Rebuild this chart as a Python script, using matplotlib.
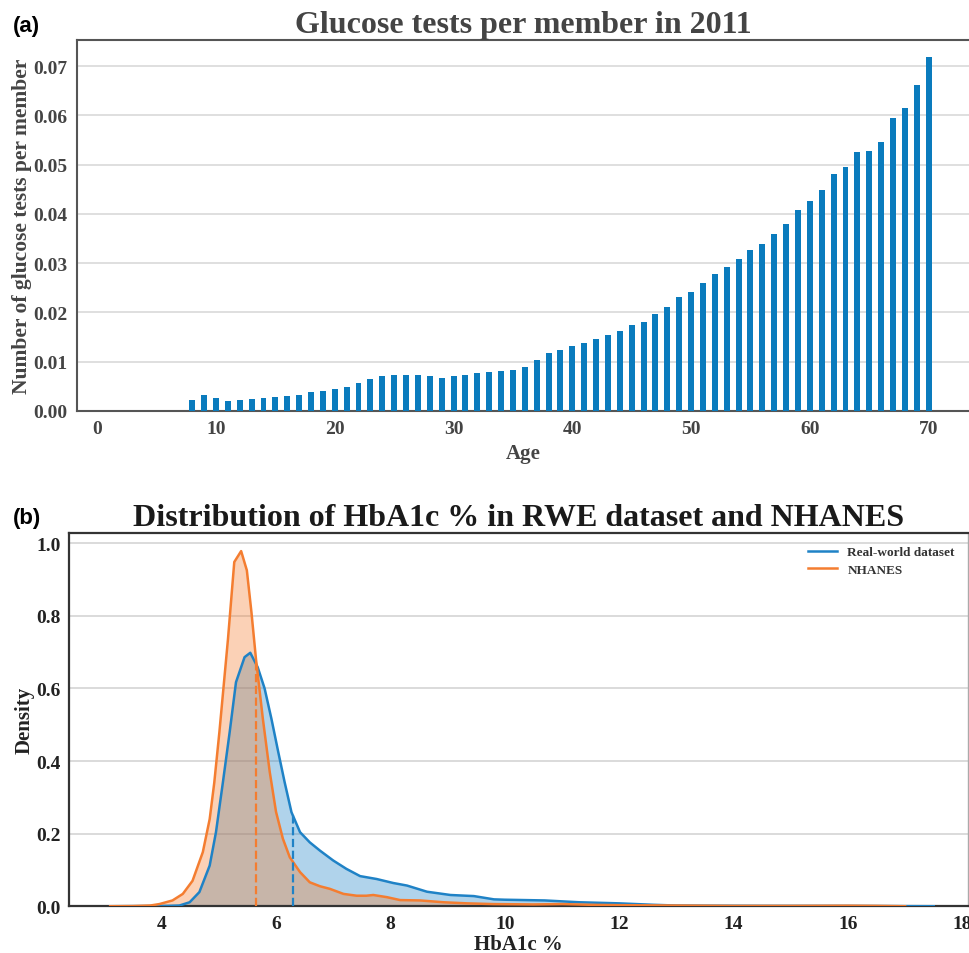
import numpy as np
import matplotlib
matplotlib.use("Agg")
import matplotlib.pyplot as plt

# ================= DATA =================
ages = list(range(0, 71))
tests_per_member = [0.0] * 8 + [
    0.00217, 0.00318, 0.00258, 0.00197, 0.00217, 0.00237, 0.00258, 0.00278,
    0.00298, 0.00318, 0.00379, 0.00400, 0.00440, 0.00481, 0.00562, 0.00644,
    0.00705, 0.00725, 0.00725, 0.00725, 0.00705, 0.00664, 0.00705, 0.00725,
    0.00766, 0.00786, 0.00806, 0.00827, 0.00888, 0.01030, 0.01172, 0.01233,
    0.01315, 0.01376, 0.01457, 0.01538, 0.01620, 0.01742, 0.01803, 0.01965,
    0.02107, 0.02311, 0.02412, 0.02595, 0.02778, 0.02921, 0.03083, 0.03266,
    0.03388, 0.03592, 0.03795, 0.04079, 0.04262, 0.04486, 0.04811, 0.04954,
    0.05259, 0.05279, 0.05462, 0.05950, 0.06153, 0.06621, 0.07190,
]

rwe_x = [3.1, 3.8, 4.1, 4.31, 4.49, 4.66, 4.84, 4.95, 5.07, 5.19, 5.30, 5.45,
         5.55, 5.68, 5.80, 5.92, 6.04, 6.15, 6.27, 6.42, 6.59, 6.77, 7.0,
         7.23, 7.47, 7.76, 8.05, 8.29, 8.64, 9.05, 9.46, 9.81, 10.0, 10.7,
         11.3, 12.0, 12.6, 13.0, 13.5, 14.5, 16.0, 17.5]
rwe_y = [0.0, 0.0005, 0.001, 0.002, 0.011, 0.039, 0.112, 0.204, 0.34, 0.48,
         0.617, 0.686, 0.698, 0.658, 0.60, 0.516, 0.424, 0.342, 0.259, 0.204,
         0.176, 0.153, 0.126, 0.103, 0.083, 0.075, 0.064, 0.057, 0.040, 0.031,
         0.028, 0.019, 0.018, 0.016, 0.011, 0.008, 0.004, 0.002, 0.0015,
         0.001, 0.0008, 0.0]

nhanes_x = [3.1, 3.5, 3.8, 3.96, 4.19, 4.37, 4.54, 4.72, 4.84, 4.92, 5.01,
            5.16, 5.27, 5.39, 5.49, 5.57, 5.65, 5.77, 5.89, 6.0, 6.12, 6.24,
            6.42, 6.59, 6.77, 6.94, 7.18, 7.41, 7.58, 7.70, 7.94, 8.17, 8.52,
            8.93, 9.34, 9.8, 10.5, 11.0, 11.5, 12.0, 13.0, 14.0, 15.0, 16.0,
            16.5, 17.0]
nhanes_y = [0.0, 0.0005, 0.002, 0.006, 0.016, 0.034, 0.07, 0.149, 0.24,
            0.34, 0.48, 0.736, 0.948, 0.978, 0.925, 0.81, 0.68, 0.516, 0.37,
            0.26, 0.186, 0.135, 0.094, 0.066, 0.055, 0.048, 0.034, 0.029,
            0.029, 0.031, 0.025, 0.017, 0.016, 0.011, 0.008, 0.006, 0.005,
            0.006, 0.004, 0.003, 0.002, 0.001, 0.001, 0.0015, 0.001, 0.0]

rwe_median = 6.29
nhanes_median = 5.65

# ================= STYLE =================
plt.rcParams.update({
    "font.family": ["Liberation Serif", "DejaVu Serif"],
    "font.weight": "bold",
})
bar_color = "#0a7bbd"
blue = "#1f82c6"
orange = "#f47d30"

fig = plt.figure(figsize=(9.69, 9.54), dpi=100)

# ================= (a) BAR CHART =================
ax1 = fig.add_axes([0.0795, 0.5684, 0.9205, 0.3886])
ax1.bar(ages, tests_per_member, width=0.5, color=bar_color, zorder=3)
ax1.set_xlim(-1.7, 73.4)
ax1.set_ylim(0, 0.0753)
ax1.set_xticks(range(0, 71, 10))
ax1.set_yticks(np.arange(0, 0.071, 0.01))
ax1.set_yticklabels([f"{v:.2f}" for v in np.arange(0, 0.071, 0.01)])
ax1.yaxis.grid(True, color="#d9d9d9", linewidth=1.2, zorder=0)
ax1.tick_params(length=0, labelsize=14, labelcolor="#444444", pad=7)
for lab in ax1.get_xticklabels() + ax1.get_yticklabels():
    lab.set_fontweight("bold")
for side in ["left", "bottom", "top"]:
    ax1.spines[side].set_color("#555555")
    ax1.spines[side].set_linewidth(1.5)
ax1.spines["right"].set_visible(False)
ax1.set_title("Glucose tests per member in 2011", fontsize=23,
              fontweight="bold", color="#444444", pad=6)
ax1.set_xlabel("Age", fontsize=15, fontweight="bold", color="#444444",
               labelpad=4)
ax1.set_ylabel("Number of glucose tests per member", fontsize=15.5,
               fontweight="bold", color="#444444", labelpad=1)
fig.text(0.013, 0.972, "(a)", fontsize=16, family="Liberation Sans",
         fontweight="bold", va="center", ha="left")

# ================= (b) DENSITY =================
ax2 = fig.add_axes([0.0712, 0.049, 0.9278, 0.3913])
ax2.fill_between(rwe_x, rwe_y, color=blue, alpha=0.35, linewidth=0, zorder=2)
ax2.fill_between(nhanes_x, nhanes_y, color=orange, alpha=0.35, linewidth=0,
                 zorder=2)
ax2.plot(rwe_x, rwe_y, color=blue, linewidth=1.8, label="Real-world dataset",
         zorder=4)
ax2.plot(nhanes_x, nhanes_y, color=orange, linewidth=1.8, label="NHANES",
         zorder=4)
ax2.vlines(nhanes_median, 0, np.interp(nhanes_median, nhanes_x, nhanes_y),
           colors=orange, linestyles="--", linewidth=1.6, zorder=5)
ax2.vlines(rwe_median, 0, np.interp(rwe_median, rwe_x, rwe_y),
           colors=blue, linestyles="--", linewidth=1.6, zorder=5)
ax2.set_xlim(2.38, 18.1)
ax2.set_ylim(0, 1.028)
ax2.set_xticks(range(4, 19, 2))
ax2.set_yticks(np.arange(0, 1.01, 0.2))
ax2.set_yticklabels([f"{v:.1f}" for v in np.arange(0, 1.01, 0.2)])
ax2.yaxis.grid(True, color="#d4d4d4", linewidth=1.2, zorder=0)
ax2.tick_params(length=0, labelsize=14, labelcolor="#222222", pad=6)
for lab in ax2.get_xticklabels() + ax2.get_yticklabels():
    lab.set_fontweight("bold")
for side in ax2.spines:
    ax2.spines[side].set_color("#333333")
    ax2.spines[side].set_linewidth(1.6)
ax2.spines["right"].set_color("#aaaaaa")
ax2.spines["right"].set_linewidth(1.0)
ax2.set_title("Distribution of HbA1c % in RWE dataset and NHANES",
              fontsize=23, fontweight="bold", color="#1a1a1a", pad=6)
ax2.set_xlabel("HbA1c %", fontsize=15, fontweight="bold", color="#222222",
               labelpad=2)
ax2.set_ylabel("Density", fontsize=15, fontweight="bold", color="#222222",
               labelpad=1)
ax2.legend(loc="upper right", frameon=False, prop={"size": 9.5, "weight": "bold"},
           handlelength=2.2, labelspacing=0.4, borderaxespad=0.6,
           labelcolor="#333333")
fig.text(0.013, 0.457, "(b)", fontsize=16, family="Liberation Sans",
         fontweight="bold", va="center", ha="left")

fig.savefig("out.png", dpi=100)
